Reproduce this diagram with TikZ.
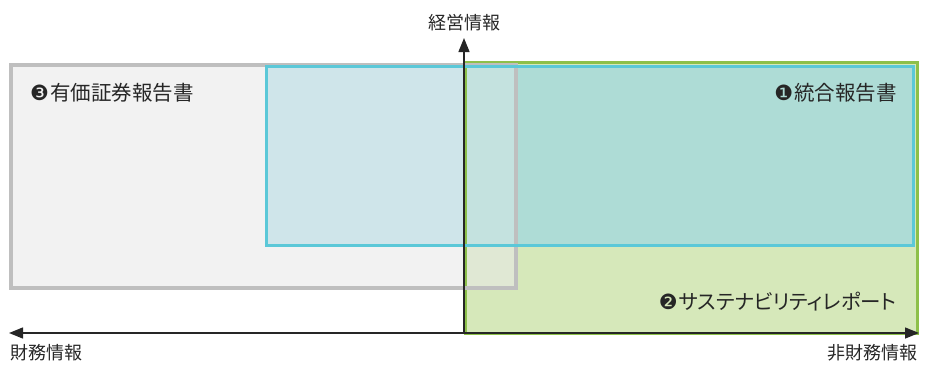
\documentclass[tikz,border=0pt]{standalone}
\usepackage{fontspec}
\usetikzlibrary{arrows.meta}
\newfontfamily\jp{Noto Sans CJK JP}
\newfontfamily\jpp[RawFeature=+palt]{Noto Sans CJK JP}
\newfontfamily\dv{DejaVu Sans}
\definecolor{grayfill}{HTML}{F2F2F2}
\definecolor{grayline}{HTML}{BFBFBF}
\definecolor{greenfill}{HTML}{D6E8BA}
\definecolor{greenline}{HTML}{8DC04A}
\definecolor{cyanline}{HTML}{5BC8D8}
\definecolor{tealfill}{HTML}{AEDCD6}
\definecolor{bluefill}{HTML}{CFE5EA}
\definecolor{midfill}{HTML}{C4E2DF}
\definecolor{graygreen}{HTML}{E0E8D4}
\definecolor{txt}{HTML}{262626}
\newcommand{\circdig}[1]{{\dv\fontsize{21}{22}\selectfont #1}\hspace{1pt}}
\begin{document}
\begin{tikzpicture}[x=1pt,y=-1pt,
  boxlabel/.style={font=\jp\fontsize{20.5}{24}\selectfont, text=txt, inner sep=0pt},
  axislabel/.style={font=\jp\fontsize{18}{21}\selectfont, text=txt, inner sep=0pt},
  axisline/.style={draw=black!85, line width=1.4pt},
  tri/.tip={Triangle[length=14pt,width=11pt]}]
\useasboundingbox (0,0) rectangle (932,365);
% fills
\fill[greenfill] (464,62) rectangle (917,333);
\fill[grayfill] (11,65) rectangle (516,288);
\fill[graygreen] (464,65) rectangle (516,288);
\fill[bluefill] (266,66) rectangle (464,245);
\fill[midfill] (464,66) rectangle (516,245);
\fill[tealfill] (516,66) rectangle (913,245);
% borders
\draw[greenline, line width=3pt] (465,62) rectangle (917,333);
\draw[grayline, line width=3.2pt] (11,65) rectangle (516,288);
\draw[cyanline, line width=3pt] (266,66.5) rectangle (913,245);
% axes
\coordinate (o) at (464,333);
\coordinate (top) at (464,38);
\coordinate (left) at (9,333);
\coordinate (right) at (919,333);
\draw[axisline, -tri] (o) -- (top);
\draw[axisline, tri-tri] (left) -- (right);
% labels
\node[axislabel, anchor=south] (keiei) at (464,31) {経営情報};
\node[axislabel, anchor=north west] (zaimu) at (10,344) {財務情報};
\node[axislabel, anchor=north east] (hizaimu) at (918,344) {非財務情報};
\node[boxlabel, anchor=west] (l3) at (30,93) {\circdig{❸}有価証券報告書};
\node[boxlabel, anchor=east] (l1) at (897,93) {\circdig{❶}統合報告書};
\node[boxlabel, anchor=east] (l2) at (897,302) {\circdig{❷}{\jpp サステナビリティレポート}};
\end{tikzpicture}
\end{document}
